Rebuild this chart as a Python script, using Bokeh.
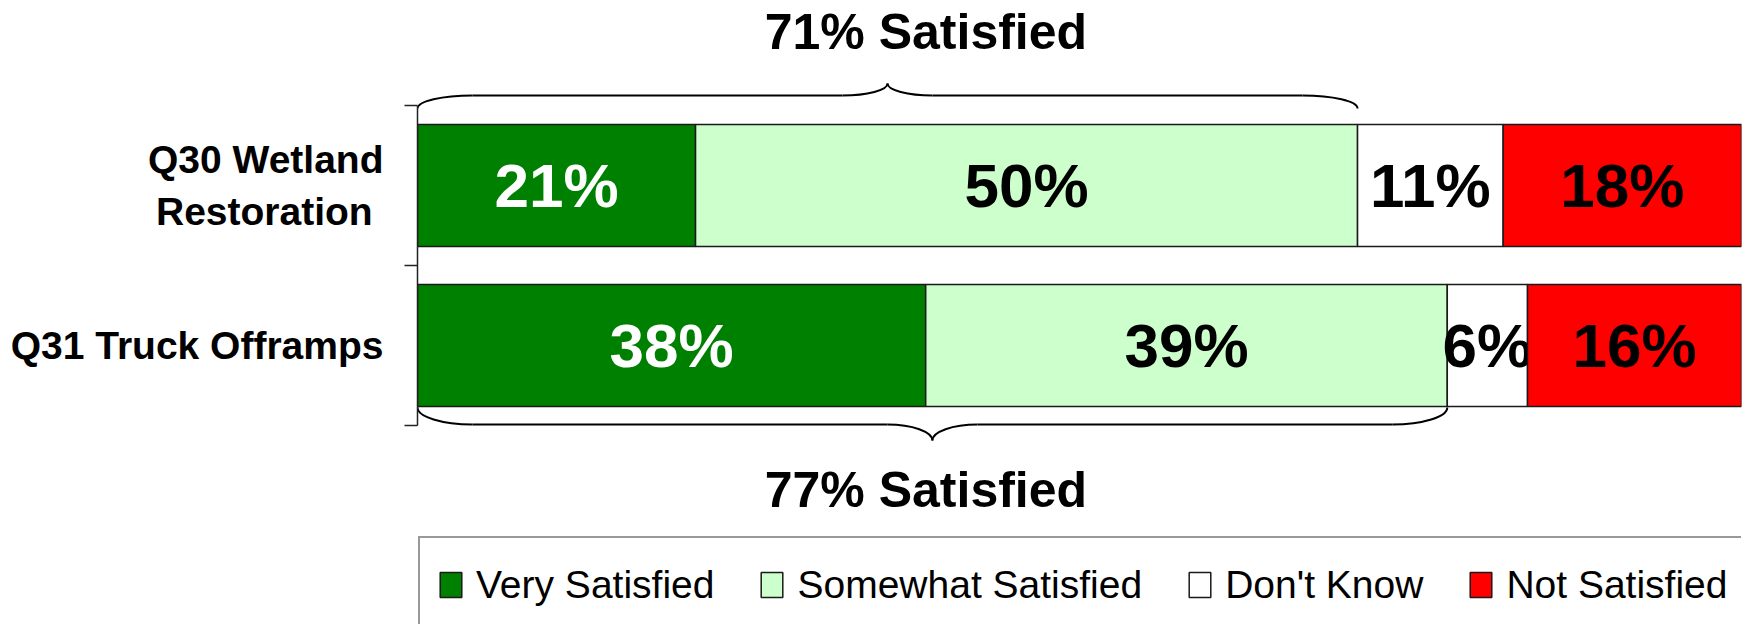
from bokeh.plotting import figure
from bokeh.models import (ColumnDataSource, Range1d, LinearAxis, FixedTicker,
                          Legend, LegendItem)
from bokeh.core.properties import value
from bokeh.embed import file_html
from bokeh.resources import INLINE

# ---- data ----
categories = ["Q30 Wetland\nRestoration ", "Q31 Truck Offramps"]
series = ["Very Satisfied", "Somewhat Satisfied", "Don't Know", "Not Satisfied"]
very_satisfied = [21, 38]
somewhat_satisfied = [50, 39]
dont_know = [11, 6]
not_satisfied = [18, 16]
colors = ["#008000", "#CCFFCC", "#FFFFFF", "#FF0000"]
text_colors = ["white", "black", "black", "black"]

FONT = "Liberation Sans"
values = [very_satisfied, somewhat_satisfied, dont_know, not_satisfied]
n = len(categories)
ypos = [n - i - 0.5 for i in range(n)]
totals = [sum(v[i] for v in values) for i in range(n)]
BAR_H = 0.7625
W, H = 1745, 624
PX_X = 1324 / 100.0   # pixels per x unit
PX_Y = 160.0          # pixels per y unit
Y0 = 425              # pixel row of y = 0

p = figure(width=W, height=H, output_backend="svg", toolbar_location=None,
           x_range=Range1d(0, 100), y_range=Range1d((Y0 - H) / PX_Y, Y0 / PX_Y),
           x_axis_location=None, y_axis_location=None,
           min_border_left=417, min_border_right=4, min_border_top=0, min_border_bottom=0,
           background_fill_color="white", border_fill_color="white")
p.outline_line_color = None
p.xgrid.visible = False
p.ygrid.visible = False

# stacked, normalised bars
cum = [0.0] * n
renderers = []
for k, (name, vals) in enumerate(zip(series, values)):
    left = [cum[i] for i in range(n)]
    right = [cum[i] + vals[i] / totals[i] * 100 for i in range(n)]
    cum = right
    src = ColumnDataSource(dict(y=ypos, left=left, right=right,
                                xm=[(l + r) / 2 for l, r in zip(left, right)],
                                lab=[f"{v}%" for v in vals]))
    r = p.hbar(y="y", left="left", right="right", height=BAR_H, source=src,
               fill_color=colors[k], line_color="#1a1a1a", line_width=1.5)
    renderers.append(r)
    p.text(x="xm", y="y", text="lab", source=src, text_font=value(FONT),
           text_font_style="bold", text_font_size="62px", text_align="center",
           text_baseline="middle", text_color=text_colors[k])

# braces
def brace(xs, xe, y_end, y_flat, y_tip):
    w1 = 55 / PX_X
    w2 = 45 / PX_X
    xm = (xs + xe) / 2
    k = 0.5523
    b = dict(x0=[], y0=[], x1=[], y1=[], cx0=[], cy0=[], cx1=[], cy1=[])
    def add(x0, y0, x1, y1, cx0, cy0, cx1, cy1):
        for key, v in zip(["x0", "y0", "x1", "y1", "cx0", "cy0", "cx1", "cy1"],
                          [x0, y0, x1, y1, cx0, cy0, cx1, cy1]):
            b[key].append(v)
    add(xs, y_end, xs + w1, y_flat, xs, y_end + k * (y_flat - y_end), xs + w1 * (1 - k), y_flat)
    add(xe, y_end, xe - w1, y_flat, xe, y_end + k * (y_flat - y_end), xe - w1 * (1 - k), y_flat)
    add(xm - w2, y_flat, xm, y_tip, xm - w2 * (1 - k), y_flat, xm, y_tip + k * (y_flat - y_tip))
    add(xm + w2, y_flat, xm, y_tip, xm + w2 * (1 - k), y_flat, xm, y_tip + k * (y_flat - y_tip))
    p.bezier(source=ColumnDataSource(b), line_color="black", line_width=2)
    p.segment(x0=[xs + w1, xm + w2], y0=[y_flat, y_flat], x1=[xm - w2, xe - w1],
              y1=[y_flat, y_flat], line_color="black", line_width=2)

sat = [(very_satisfied[i] + somewhat_satisfied[i]) / totals[i] * 100 for i in range(n)]
brace(0, sat[0], (Y0 - 108) / PX_Y, (Y0 - 95) / PX_Y, (Y0 - 83) / PX_Y)
brace(0, sat[1], (Y0 - 407) / PX_Y, (Y0 - 424) / PX_Y, (Y0 - 440) / PX_Y)

p.text(x=[38.4, 38.4], y=[(Y0 - 31) / PX_Y, (Y0 - 489) / PX_Y],
       text=[f"{very_satisfied[i] + somewhat_satisfied[i]}% Satisfied" for i in range(n)],
       text_font=value(FONT), text_font_style="bold", text_font_size="50px",
       text_align="center", text_baseline="middle", text_color="black")

# category axis with ticks at band boundaries
yaxis = LinearAxis(ticker=FixedTicker(ticks=ypos, minor_ticks=[0, 1, 2]), bounds=(0, n),
                   major_label_overrides={ypos[i]: categories[i] for i in range(n)},
                   major_tick_out=0, major_tick_in=0, minor_tick_out=13, minor_tick_in=0,
                   minor_tick_line_color="#222", minor_tick_line_width=1.5,
                   axis_line_color="#222", axis_line_width=1.5,
                   major_label_standoff=21, major_label_text_font=FONT,
                   major_label_text_font_style="bold", major_label_text_font_size="39px",
                   major_label_text_color="black")
p.add_layout(yaxis, "left")

legend = Legend(items=[LegendItem(label=s, renderers=[r]) for s, r in zip(series, renderers)],
                orientation="horizontal", location=(1, -9), padding=17, margin=0,
                spacing=44, glyph_width=27, glyph_height=31, label_standoff=12,
                label_height=59, label_text_font=FONT, label_text_font_size="39px",
                label_text_color="black", border_line_color="#333", border_line_width=2,
                background_fill_color="white", background_fill_alpha=1.0)
p.add_layout(legend)

open("out.html", "w").write(file_html(p, INLINE))
